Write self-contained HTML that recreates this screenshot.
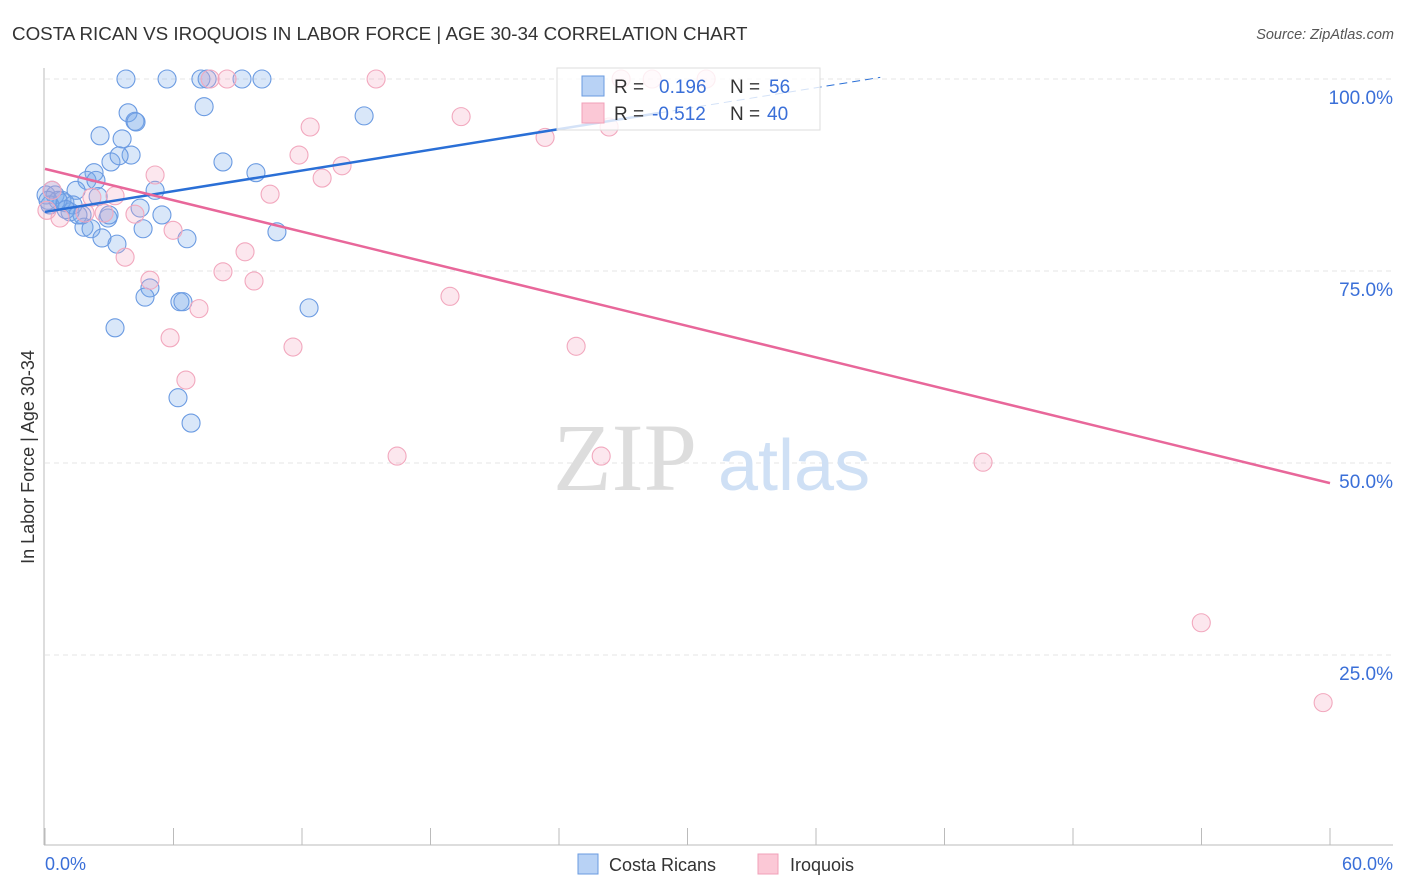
<!DOCTYPE html>
<html><head><meta charset="utf-8"><style>
body{margin:0;background:#fff;font-family:"Liberation Sans",sans-serif}
svg{display:block}
</style></head><body>
<svg id="chart" width="1406" height="892" xmlns="http://www.w3.org/2000/svg">
<text x="12" y="40" font-size="18.8" fill="#333">COSTA RICAN VS IROQUOIS IN LABOR FORCE | AGE 30-34 CORRELATION CHART</text>
<text x="1394" y="39" font-size="14.5" fill="#555" font-style="italic" text-anchor="end">Source: ZipAtlas.com</text>
<g id="grid"></g>
<g><text x="553" y="490" font-family="Liberation Serif,serif" font-size="96" fill="#ddd">ZIP</text><text x="718" y="490" font-size="72" fill="#cfe0f5">atlas</text></g>
<line x1="44" y1="68" x2="44" y2="845" stroke="#bbb"/>
<line x1="44" y1="845" x2="1393" y2="845" stroke="#bbb"/>
<g id="xticks"></g>
<g id="ylabels"></g>
<text x="45" y="870" font-size="18" fill="#3a6fd8">0.0%</text>
<text x="1393" y="870" font-size="18" fill="#3a6fd8" text-anchor="end">60.0%</text>
<text transform="translate(34,457) rotate(-90)" font-size="18" fill="#333" text-anchor="middle">In Labor Force | Age 30-34</text>
<g id="pts"></g>
<g id="trends"></g>
<g>
<rect x="557" y="68" width="263" height="62" fill="#fff" fill-opacity="0.8" stroke="#ddd"/>
<rect x="582" y="76" width="22" height="20" fill="#b8d2f5" stroke="#6a9be0"/>
<rect x="582" y="103" width="22" height="20" fill="#fbc8d6" stroke="#f0a0b8"/>
<text x="614" y="93" font-size="19" fill="#333">R = <tspan fill="#3a6fd8" x="659">0.196</tspan><tspan x="730" fill="#333">N = </tspan><tspan fill="#3a6fd8" x="769">56</tspan></text>
<text x="614" y="120" font-size="19" fill="#333">R = <tspan fill="#3a6fd8" x="652">-0.512</tspan><tspan x="730" fill="#333">N = </tspan><tspan fill="#3a6fd8" x="767">40</tspan></text>
</g>
<g>
<rect x="578" y="854" width="20" height="20" fill="#b8d2f5" stroke="#6a9be0"/>
<text x="609" y="871" font-size="18" fill="#333">Costa Ricans</text>
<rect x="758" y="854" width="20" height="20" fill="#fbc8d6" stroke="#f0a0b8"/>
<text x="790" y="871" font-size="18" fill="#333">Iroquois</text>
</g>
</svg>
<script>
const yTicks=[100,75,50,25];
const yTickLabels=["100.0%","75.0%","50.0%","25.0%"];
const xTickVals=[0,6,12,18,24,30,36,42,48,54,60];
const blueX=[3.78,5.70,7.28,7.57,9.20,10.13,3.88,4.20,4.25,7.43,14.9,2.57,3.60,3.08,4.02,3.46,8.31,9.85,2.29,1.96,2.38,1.45,5.14,0.33,0.05,0.47,0.79,0.93,0.23,1.17,1.73,2.94,4.44,5.46,1.82,2.15,4.58,2.66,3.36,6.63,10.83,4.90,4.67,6.30,6.44,12.33,3.27,6.21,6.82,1.31,0.61,0.98,2.48,0.14,1.54,2.99];
const blueY=[100,100,100,100,100,100,95.6,94.5,94.4,96.4,95.2,92.6,92.2,89.2,90.1,90.0,89.2,87.8,87.8,86.8,86.8,85.5,85.5,85.5,84.9,84.9,84.2,83.9,83.6,82.7,82.3,81.9,83.2,82.3,80.7,80.5,80.5,79.3,78.5,79.2,80.1,72.8,71.6,71.0,71.0,70.2,67.6,58.5,55.2,83.6,84.2,83.0,84.7,84.2,82.3,82.3];
const pinkX=[7.71,8.50,15.46,26.9,28.35,30.87,19.43,12.38,23.35,26.34,11.86,13.87,12.94,5.14,10.51,3.27,0.33,2.19,0.70,1.87,4.20,2.76,5.98,9.34,3.74,4.90,8.31,9.76,18.91,7.19,5.84,11.58,24.8,6.58,16.44,25.97,43.8,53.99,59.68,0.09];
const pinkY=[100,100,100,100,100,100,95.1,93.75,92.4,93.75,90.1,88.7,87.1,87.5,85.0,84.8,85.5,84.6,81.9,82.55,82.4,82.55,80.3,77.5,76.8,73.8,74.9,73.7,71.7,70.1,66.3,65.1,65.2,60.8,50.9,50.9,50.1,29.2,18.8,82.9];
const blueTrend=[82.7,0.449];
const pinkTrend=[88.3,-0.682];
const X=v=>45+v/60*1285, Y=v=>847-v*7.68;
const NS="http://www.w3.org/2000/svg";
function mk(tag,attrs,parent){const e=document.createElementNS(NS,tag);for(const k in attrs)e.setAttribute(k,attrs[k]);parent.appendChild(e);return e;}
const grid=document.getElementById('grid'),yl=document.getElementById('ylabels'),xt=document.getElementById('xticks');
yTicks.forEach((t,i)=>{
 const l=mk('line',{x1:45,x2:1393,y1:Y(t),y2:Y(t),stroke:'#e4e4e4','stroke-dasharray':'5,4'},grid);
 
 
 const tx=mk('text',{x:1393,y:Y(t)+25,'font-size':19,fill:'#3a6fd8','text-anchor':'end'},yl);
 tx.textContent=yTickLabels[i];
 
 
});
xTickVals.forEach(v=>{
 const l=mk('line',{x1:X(v),x2:X(v),y1:828,y2:845,stroke:'#bbb'},xt);
 
 
});
const pts=document.getElementById('pts');
blueX.forEach((x,i)=>{
 const c=mk('circle',{cx:X(x),cy:Y(blueY[i]),r:9,fill:'rgba(120,170,235,0.28)',stroke:'#6b9be2','stroke-width':1.1},pts);
 
 
});
pinkX.forEach((x,i)=>{
 const c=mk('circle',{cx:X(x),cy:Y(pinkY[i]),r:9,fill:'rgba(245,170,195,0.28)',stroke:'#f2a8be','stroke-width':1.1},pts);
 
 
});
const tr=document.getElementById('trends');
const bf=x=>blueTrend[0]+blueTrend[1]*x, pf=x=>pinkTrend[0]+pinkTrend[1]*x;
let l1=mk('line',{x1:X(0),y1:Y(bf(0)),x2:X(28.7),y2:Y(bf(28.7)),stroke:'#2a6fd6','stroke-width':2.5},tr);


let l2=mk('line',{x1:X(28.7),y1:Y(bf(28.7)),x2:X(39),y2:Y(bf(39)),stroke:'#2a6fd6','stroke-width':1,'stroke-dasharray':'8,5'},tr);


let l3=mk('line',{x1:X(0),y1:Y(pf(0)),x2:X(60),y2:Y(pf(60)),stroke:'#e8679a','stroke-width':2.5},tr);


</script>
</body></html>
